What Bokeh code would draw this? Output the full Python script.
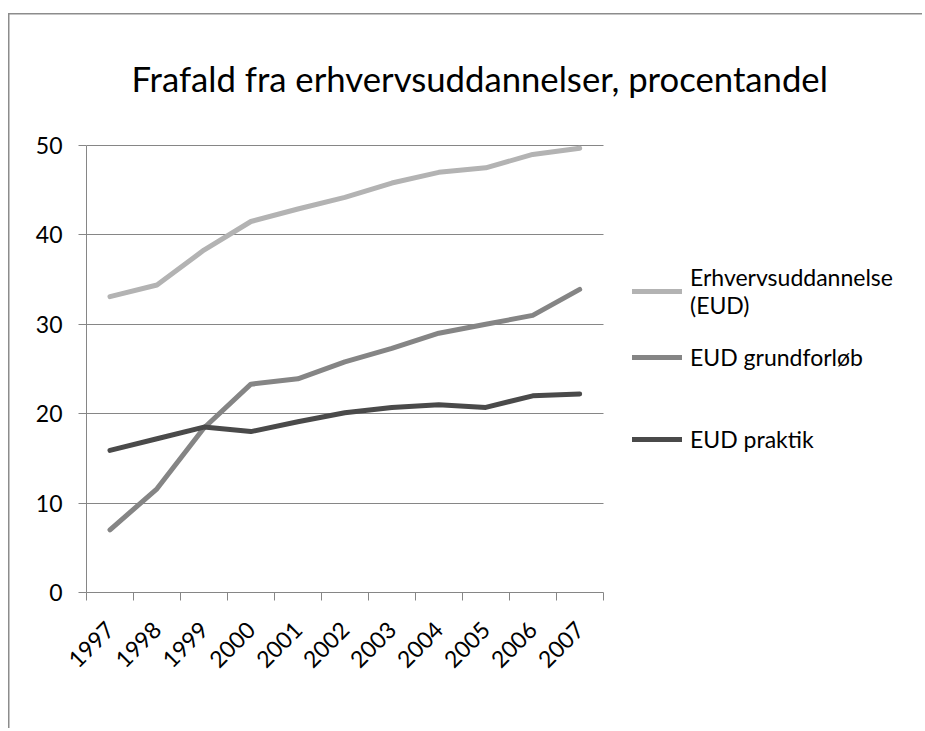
import math
from bokeh.plotting import figure
from bokeh.models import Range1d, FixedTicker, Legend, LegendItem, Title
from bokeh.embed import file_html
from bokeh.resources import INLINE

years = ["1997", "1998", "1999", "2000", "2001", "2002", "2003", "2004", "2005", "2006", "2007"]
eud_total = [33.1, 34.4, 38.3, 41.5, 42.9, 44.2, 45.8, 47.0, 47.5, 49.0, 49.7]
eud_grund = [7.0, 11.6, 18.4, 23.3, 23.9, 25.8, 27.3, 29.0, 30.0, 31.0, 33.9]
eud_praktik = [15.9, 17.2, 18.5, 18.0, 19.1, 20.1, 20.7, 21.0, 20.7, 22.0, 22.2]
series_names = ["Erhvervsuddannelse\n(EUD)", "EUD grundforløb", "EUD praktik"]
y_ticks = [0, 10, 20, 30, 40, 50]

FONT = "Lato"
GRID = "#868686"
colors = ["#b3b3b3", "#858585", "#4a4a4a"]

W, H = 922, 728
FL, FB = 86, 592
Y50 = 145            # canvas y of the value 50
FT = 103             # frame top (room above 50 for the title)
PX_PER_CAT = 46.97
PX_PER_UNIT = (FB - Y50) / 50.0
n = len(years)
x_end = (W - FL) / PX_PER_CAT
y_end = 50 + (Y50 - FT) / PX_PER_UNIT

xs = [i + 0.5 for i in range(n)]

p = figure(width=W, height=H, output_backend="svg", toolbar_location=None,
           x_range=Range1d(0, x_end), y_range=Range1d(0, y_end),
           min_border_left=FL, min_border_right=0,
           min_border_top=FT, min_border_bottom=H - FB,
           background_fill_color="white", border_fill_color=None)
p.outline_line_color = None
# outer chart border (left and top edges, as in the reference)
p.styles = {"box-shadow": "inset 8px 13px 0px 0px #ffffff, inset 9.5px 14.5px 0px 0px #8c8c8c"}

p.title = Title(text="Frafald fra erhvervsuddannelser, procentandel", align="left",
                offset=45, text_font=FONT, text_font_size="34.7px",
                text_font_style="normal", text_color="black", standoff=10)

renderers = []
for vals, c in zip([eud_total, eud_grund, eud_praktik], colors):
    r = p.line(xs, vals, line_color=c, line_width=5, line_cap="round", line_join="round")
    renderers.append(r)

xa = p.xaxis[0]
xa.bounds = (0, n)
xa.ticker = FixedTicker(ticks=xs, minor_ticks=list(range(n + 1)))
xa.major_label_overrides = {x: y for x, y in zip(xs, years)}
xa.major_label_orientation = math.pi / 4
xa.major_tick_line_color = None
xa.minor_tick_out = 8
xa.minor_tick_in = 0
xa.minor_tick_line_color = GRID
xa.axis_line_color = GRID
xa.major_label_text_font = FONT
xa.major_label_text_font_size = "23px"
xa.major_label_text_color = "black"
xa.major_label_standoff = 25

ya = p.yaxis[0]
ya.bounds = (0, 50)
ya.ticker = FixedTicker(ticks=y_ticks)
ya.major_tick_out = 8
ya.major_tick_in = 0
ya.minor_tick_line_color = None
ya.major_tick_line_color = GRID
ya.axis_line_color = GRID
ya.major_label_text_font = FONT
ya.major_label_text_font_size = "23px"
ya.major_label_text_color = "black"
ya.major_label_standoff = 16

p.xgrid.grid_line_color = None
p.ygrid.ticker = FixedTicker(ticks=y_ticks)
p.ygrid.cross_bounds = (0, n)
p.ygrid.grid_line_color = GRID
p.ygrid.grid_line_width = 1

leg_pos = [(546, 273), (546, 221), (546, 139)]
for name, r, pos in zip(series_names, renderers, leg_pos):
    lg = Legend(items=[LegendItem(label=name, renderers=[r])], location=pos,
                glyph_width=50, glyph_height=26, label_standoff=8, padding=0, margin=0,
                border_line_color=None, background_fill_alpha=0,
                label_text_font=FONT, label_text_font_size="23px", label_text_color="black")
    p.add_layout(lg)

open("out.html", "w").write(file_html(p, INLINE))
